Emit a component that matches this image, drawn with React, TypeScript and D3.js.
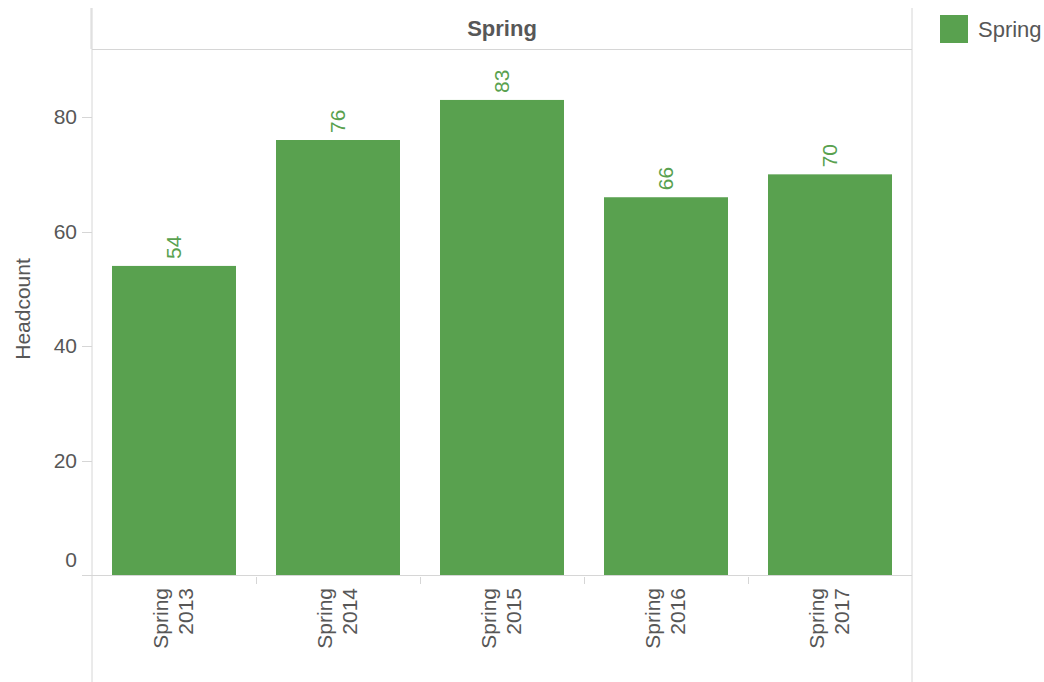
import React from "react";
import * as d3 from "d3";

const categories = ["Spring 2013", "Spring 2014", "Spring 2015", "Spring 2016", "Spring 2017"];
const values = [54, 76, 83, 66, 70];
const yTicks = [0, 20, 40, 60, 80];
const panelTitle = "Spring";
const legendLabel = "Spring";
const yAxisTitle = "Headcount";

const W = 1044;
const H = 682;
const FONT = "'Liberation Sans', Arial, sans-serif";
const GREEN = "#59a14f";
const LINE = "#d6d6d6";
const TEXT = "#575757";
const FS = 21;

export default function App() {
  const left = 92, right = 912, top = 49, bottom = 575;
  const x = d3.scaleBand<string>().domain(categories).range([left, right]).paddingInner(40 / 164).paddingOuter(20 / 164);
  const y = d3.scaleLinear().domain([0, 91.9]).range([bottom, top]);
  const step = x.step();

  return (
    <svg width={W} height={H} style={{ position: "absolute", left: 0, top: 0, fontFamily: FONT }}>
      <rect width={W} height={H} fill="#fff" />
      {/* frame lines */}
      <line x1={left} x2={left} y1={8} y2={H} stroke={LINE} strokeWidth={1} />
      <line x1={left - 1} x2={left - 1} y1={8} y2={top} stroke={LINE} strokeWidth={1} />
      <line x1={right} x2={right} y1={8} y2={H} stroke={LINE} strokeWidth={1} />
      <line x1={left} x2={right} y1={top + 0.5} y2={top + 0.5} stroke={LINE} strokeWidth={1} />
      <text x={(left + right) / 2} y={36} textAnchor="middle" fontSize={22} fontWeight="bold" fill={TEXT}>{panelTitle}</text>

      {/* y axis ticks */}
      {yTicks.map((t) => (
        <g key={t}>
          {t !== 0 && <line x1={left - 10} x2={left} y1={Math.round(y(t)) + 0.5} y2={Math.round(y(t)) + 0.5} stroke={LINE} />}
          <text
            x={77}
            y={t === 0 ? y(t) - 8 : y(t)}
            dy={t === 0 ? 0 : "0.35em"}
            textAnchor="end"
            fontSize={FS}
            fill={TEXT}
          >{t}</text>
        </g>
      ))}
      <text transform={`translate(30, 309) rotate(-90)`} textAnchor="middle" fontSize={21} fill={TEXT}>{yAxisTitle}</text>

      {/* bars */}
      {categories.map((c, i) => (
        <g key={c}>
          <rect x={x(c)} y={y(values[i])} width={x.bandwidth()} height={bottom - y(values[i])} fill={GREEN} />
          <text
            transform={`translate(${(x(c) as number) + x.bandwidth() / 2 + 7}, ${y(values[i]) - 7}) rotate(-90)`}
            fontSize={FS}
            fill={GREEN}
          >{values[i]}</text>
        </g>
      ))}

      {/* x axis */}
      <line x1={left - 10} x2={right} y1={bottom + 0.5} y2={bottom + 0.5} stroke={LINE} />
      {categories.slice(1).map((c) => (
        <line key={c} x1={Math.round((x(c) as number) - (step - x.bandwidth()) / 2) + 0.5} x2={Math.round((x(c) as number) - (step - x.bandwidth()) / 2) + 0.5} y1={bottom + 2} y2={bottom + 9} stroke={LINE} />
      ))}
      {categories.map((c) => {
        const cx = (x(c) as number) + x.bandwidth() / 2;
        const parts = c.split(" ");
        return (
          <g key={c} transform={`translate(${cx}, 588) rotate(-90)`}>
            <text x={0} y={-6} textAnchor="end" fontSize={FS} fill={TEXT}>{parts[0]}</text>
            <text x={0} y={19} textAnchor="end" fontSize={FS} fill={TEXT}>{parts[1]}</text>
          </g>
        );
      })}

      {/* legend */}
      <rect x={940} y={15} width={28} height={28} fill={GREEN} />
      <text x={978} y={29} dy="0.35em" fontSize={22} fill={TEXT}>{legendLabel}</text>
    </svg>
  );
}
